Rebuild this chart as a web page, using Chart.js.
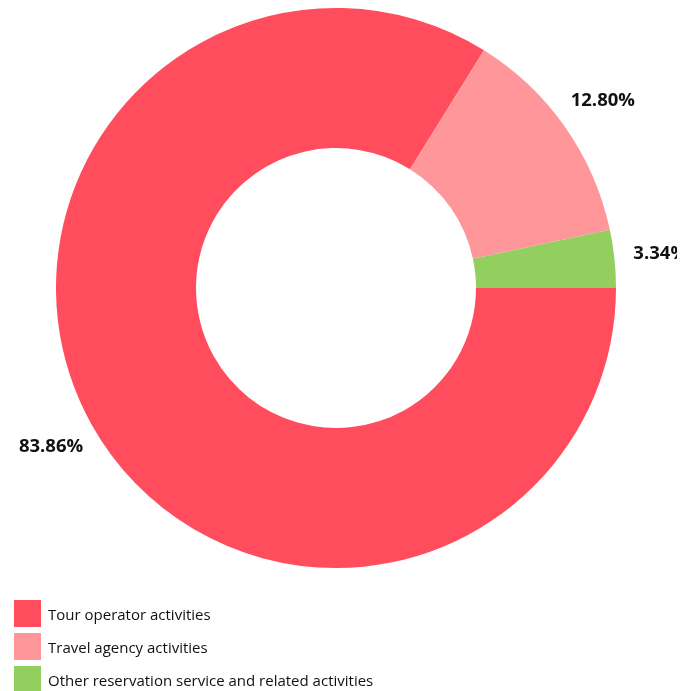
<!DOCTYPE html>
<html>
<head>
<meta charset="utf-8">
<script src="https://cdn.jsdelivr.net/npm/chart.js@4.4.1/dist/chart.umd.min.js"></script>
<style>
html,body{margin:0;padding:0;background:#fff;overflow:hidden;}
#wrap{position:relative;width:677px;height:691px;}
</style>
</head>
<body>
<div id="wrap"><canvas id="c"></canvas></div>
<script>
const categories = ["Tour operator activities", "Travel agency activities", "Other reservation service and related activities"];
const shares = [83.86, 12.80, 3.34];
const valueLabels = ["83.86%", "12.80%", "3.34%"];
const colors = ["#FF4D5E", "#FF9699", "#92CF5F"];

const FONT = "'Open Sans', 'Noto Sans', sans-serif";

const outsideLabels = {
  id: 'outsideLabels',
  afterDatasetsDraw(chart) {
    const ctx = chart.ctx;
    const meta = chart.getDatasetMeta(0);
    ctx.save();
    ctx.font = "bold 18.5px " + FONT;
    ctx.fillStyle = "#111";
    ctx.textAlign = "center";
    ctx.textBaseline = "middle";
    meta.data.forEach((arc, i) => {
      const p = arc.getProps(['x','y','startAngle','endAngle','outerRadius'], true);
      const mid = (p.startAngle + p.endAngle) / 2;
      const r = p.outerRadius + 46;
      ctx.fillText(valueLabels[i], p.x + Math.cos(mid) * r, p.y + Math.sin(mid) * r);
    });
    ctx.restore();
  }
};

const boxLegend = {
  id: 'boxLegend',
  afterDraw(chart) {
    const ctx = chart.ctx;
    ctx.save();
    ctx.font = "15px " + FONT;
    ctx.textAlign = "left";
    ctx.textBaseline = "middle";
    categories.forEach((c, i) => {
      const y = 600 + i * 33;
      ctx.fillStyle = colors[i];
      ctx.fillRect(14, y, 27, 27);
      ctx.fillStyle = "#111";
      ctx.fillText(c, 48, y + 16);
    });
    ctx.restore();
  }
};

new Chart(document.getElementById('c'), {
  type: 'doughnut',
  data: {
    labels: categories,
    datasets: [{
      data: shares,
      backgroundColor: colors,
      borderWidth: 0,
      hoverOffset: 0
    }]
  },
  options: {
    responsive: true,
    maintainAspectRatio: false,
    animation: false,
    rotation: 90,
    cutout: '50%',
    layout: { padding: { top: 8, bottom: 123, left: 56, right: 61 } },
    plugins: {
      legend: { display: false },
      tooltip: { enabled: false }
    }
  },
  plugins: [outsideLabels, boxLegend]
});
</script>
</body>
</html>
